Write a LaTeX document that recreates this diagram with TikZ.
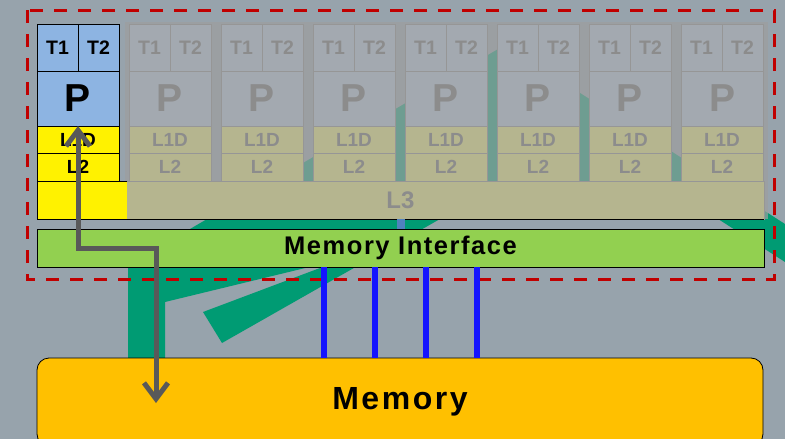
\documentclass[tikz,border=0pt]{standalone}
\usepackage{fontspec}
\setmainfont{Liberation Sans}
\usetikzlibrary{calc,positioning,arrows.meta}
\definecolor{slide}{RGB}{151,163,172}
\definecolor{swoosh}{RGB}{0,155,115}
\definecolor{fade}{RGB}{158,158,158}
\definecolor{coregrey}{RGB}{163,169,176}
\definecolor{khaki}{RGB}{181,181,143}
\definecolor{edgegrey}{RGB}{150,150,150}
\definecolor{txtgrey}{RGB}{140,140,140}
\definecolor{threadblue}{RGB}{141,180,226}
\definecolor{ifgreen}{RGB}{146,208,80}
\definecolor{memorange}{RGB}{255,192,0}
\definecolor{dashred}{RGB}{192,0,0}
\definecolor{pathgrey}{RGB}{89,89,89}
\definecolor{busblue}{RGB}{20,20,255}
\definecolor{linkblue}{RGB}{80,130,190}
\tikzset{
cell/.style={draw, line width=0.8pt, inner sep=0pt, outer sep=0pt, minimum width=82pt},
tbox/.style={cell, minimum width=41pt, minimum height=47pt, font=\fontsize{19.5}{20}\selectfont\bfseries},
pbox/.style={cell, minimum height=55pt, font=\fontsize{39}{40}\selectfont\bfseries},
l1box/.style={cell, minimum height=27pt, font=\fontsize{19}{20}\selectfont\bfseries},
l2box/.style={cell, minimum height=28pt, font=\fontsize{19}{20}\selectfont\bfseries},
live/.style={draw=black, text=black},
ghost/.style={draw=edgegrey, text=txtgrey},
cachebar/.style={minimum width=727pt, minimum height=38pt, inner sep=0pt, outer sep=0pt, line width=0.8pt},
chipframe/.style={draw=dashred, line width=3pt, dash pattern=on 13pt off 11pt},
busline/.style={draw=busblue, line width=6pt},
datapath/.style={draw=pathgrey, line width=5pt,
  {Straight Barb[length=16pt,width=24pt]}-{Straight Barb[length=16pt,width=24pt]}},
}

\begin{document}
\begin{tikzpicture}[x=1pt,y=-1pt]
\useasboundingbox (0,0) rectangle (785,439);
\clip (0,0) rectangle (785,439);
\fill[slide] (0,0) rectangle (785,439);
% green swoosh behind
\fill[swoosh] (128,365) -- (128,255) -- (330,255) -- (330,262) -- (165,302) -- (165,365) -- cycle;
\fill[swoosh] (203,312) -- (222,343) -- (440,219) -- (715,217) -- (785,262) -- (785,224)
  -- (505,45) -- (190,229) -- (320,268) -- cycle;
\fill[fade, opacity=0.7] (125,22) rectangle (768,219);
% chip
\draw[chipframe] (27,10) rectangle (774,279);
%
\node[tbox,live,fill=threadblue] (T1-0) at (57.5,47.5) {T1};
\node[tbox,live,fill=threadblue,right=0pt of T1-0] (T2-0) {T2};
\node[pbox,live,fill=threadblue,below=0pt of T1-0.south east] (P-0) {P};
\node[l1box,live,fill=yellow,below=0pt of P-0] (L1D-0) {L1D};
\node[l2box,live,fill=yellow,below=0pt of L1D-0] (L2-0) {L2};
\foreach \c in {1,...,7}{
  \node[tbox,ghost,fill=coregrey] (T1-\c) at ({57.5+92*\c},47.5) {T1};
  \node[tbox,ghost,fill=coregrey,right=0pt of T1-\c] (T2-\c) {T2};
  \node[pbox,ghost,fill=coregrey,below=0pt of T1-\c.south east] (P-\c) {P};
  \node[l1box,ghost,fill=khaki,below=0pt of P-\c] (L1D-\c) {L1D};
  \node[l2box,ghost,fill=khaki,below=0pt of L1D-\c] (L2-\c) {L2};
}
%
\node[cachebar,fill=khaki,draw=edgegrey,text=txtgrey,font=\fontsize{24}{24}\selectfont\bfseries] (L3) at (400.5,200) {L3};
\fill[yellow] (L3.north west) rectangle ($(L3.south west)+(90,0)$);
\draw[line width=0.8pt] ($(L3.north west)+(90,0)$) -- (L3.north west) -- (L3.south west) -- (L3.south east);
\node[cachebar,draw=black,fill=ifgreen,font=\fontsize{25.5}{26}\selectfont\bfseries\addfontfeature{LetterSpace=6}] (iface) at (400.5,248) {Memory Interface};
\fill[linkblue] ($(L3.south)+(-4,0)$) rectangle ($(iface.north)+(4,0)$);
\node[draw,fill=memorange,rounded corners=12pt,line width=0.8pt,minimum width=726pt,minimum height=88pt,
  font=\fontsize{32}{32}\selectfont\bfseries\addfontfeature{LetterSpace=8}] (mem) at (400,402) {Memory};
%
\foreach \x in {324,375,426,477}{
  \coordinate (tap) at (\x,0);
  \draw[busline] (iface.south -| tap) -- (mem.north -| tap);
}
\coordinate (memtip) at (156,403);
\draw[datapath] (P-0.south) |- (iface.center -| memtip) -- (memtip);
\end{tikzpicture}
\end{document}
